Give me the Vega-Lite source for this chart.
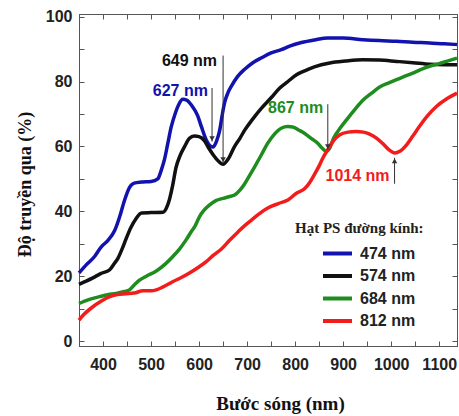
{
  "$schema": "https://vega.github.io/schema/vega-lite/v6.json",
  "width": 378,
  "height": 332,
  "autosize": "none",
  "padding": {"left": 79, "top": 14, "right": 2, "bottom": 70},
  "background": "white",
  "config": {
    "view": {"stroke": "#555", "strokeWidth": 1},
    "axis": {
      "domainColor": "#555",
      "tickColor": "#555",
      "labelFont": "Liberation Sans",
      "labelFontSize": 16,
      "labelFontWeight": "bold",
      "labelColor": "#222",
      "titleFont": "Liberation Serif",
      "titleFontSize": 19,
      "titleFontWeight": "bold",
      "titleColor": "#111",
      "grid": false
    }
  },
  "datasets": {
    "curves": [
      {"series":"474 nm","wl":350,"T":21},{"series":"474 nm","wl":365,"T":23.5},{"series":"474 nm","wl":382,"T":26},{"series":"474 nm","wl":396,"T":29},{"series":"474 nm","wl":410,"T":31},{"series":"474 nm","wl":424,"T":34},{"series":"474 nm","wl":435,"T":38.5},{"series":"474 nm","wl":445,"T":43.5},{"series":"474 nm","wl":455,"T":47.3},{"series":"474 nm","wl":465,"T":48.7},{"series":"474 nm","wl":480,"T":49},{"series":"474 nm","wl":500,"T":49.2},{"series":"474 nm","wl":514,"T":50},{"series":"474 nm","wl":522,"T":53},{"series":"474 nm","wl":528,"T":56},{"series":"474 nm","wl":535,"T":61},{"series":"474 nm","wl":542,"T":66},{"series":"474 nm","wl":550,"T":70},{"series":"474 nm","wl":558,"T":73},{"series":"474 nm","wl":566,"T":74.5},{"series":"474 nm","wl":575,"T":74.2},{"series":"474 nm","wl":585,"T":72.5},{"series":"474 nm","wl":597,"T":69.5},{"series":"474 nm","wl":605,"T":66},{"series":"474 nm","wl":615,"T":62},{"series":"474 nm","wl":622,"T":60.3},{"series":"474 nm","wl":629,"T":59.8},{"series":"474 nm","wl":636,"T":61.5},{"series":"474 nm","wl":643,"T":65},{"series":"474 nm","wl":648,"T":69.5},{"series":"474 nm","wl":653,"T":73.4},{"series":"474 nm","wl":660,"T":76.5},{"series":"474 nm","wl":667,"T":78.5},{"series":"474 nm","wl":680,"T":81.5},{"series":"474 nm","wl":695,"T":83.8},{"series":"474 nm","wl":712,"T":85.8},{"series":"474 nm","wl":730,"T":87.3},{"series":"474 nm","wl":750,"T":88.8},{"series":"474 nm","wl":771,"T":89.8},{"series":"474 nm","wl":790,"T":91},{"series":"474 nm","wl":813,"T":92},{"series":"474 nm","wl":840,"T":92.8},{"series":"474 nm","wl":868,"T":93.4},{"series":"474 nm","wl":900,"T":93.4},{"series":"474 nm","wl":941,"T":92.9},{"series":"474 nm","wl":975,"T":92.6},{"series":"474 nm","wl":1011,"T":92.4},{"series":"474 nm","wl":1045,"T":92.1},{"series":"474 nm","wl":1080,"T":91.9},{"series":"474 nm","wl":1110,"T":91.6},{"series":"474 nm","wl":1137,"T":91.4},
      {"series":"574 nm","wl":350,"T":17.5},{"series":"574 nm","wl":365,"T":18.5},{"series":"574 nm","wl":379,"T":19.5},{"series":"574 nm","wl":395,"T":20.8},{"series":"574 nm","wl":414,"T":22},{"series":"574 nm","wl":424,"T":24},{"series":"574 nm","wl":431,"T":25.5},{"series":"574 nm","wl":440,"T":28.5},{"series":"574 nm","wl":448,"T":31.5},{"series":"574 nm","wl":458,"T":35},{"series":"574 nm","wl":469,"T":37.8},{"series":"574 nm","wl":480,"T":39.5},{"series":"574 nm","wl":500,"T":39.6},{"series":"574 nm","wl":525,"T":39.7},{"series":"574 nm","wl":532,"T":41},{"series":"574 nm","wl":538,"T":43.5},{"series":"574 nm","wl":545,"T":48},{"series":"574 nm","wl":552,"T":53.5},{"series":"574 nm","wl":560,"T":57},{"series":"574 nm","wl":570,"T":60},{"series":"574 nm","wl":580,"T":62.5},{"series":"574 nm","wl":590,"T":63.2},{"series":"574 nm","wl":600,"T":63},{"series":"574 nm","wl":611,"T":61.8},{"series":"574 nm","wl":620,"T":59.5},{"series":"574 nm","wl":630,"T":57.3},{"series":"574 nm","wl":640,"T":55.5},{"series":"574 nm","wl":650,"T":54.5},{"series":"574 nm","wl":660,"T":56},{"series":"574 nm","wl":674,"T":60},{"series":"574 nm","wl":685,"T":62.5},{"series":"574 nm","wl":695,"T":65},{"series":"574 nm","wl":712,"T":68.5},{"series":"574 nm","wl":730,"T":71.8},{"series":"574 nm","wl":750,"T":75},{"series":"574 nm","wl":768,"T":78},{"series":"574 nm","wl":785,"T":80},{"series":"574 nm","wl":802,"T":82},{"series":"574 nm","wl":820,"T":83.3},{"series":"574 nm","wl":840,"T":84.5},{"series":"574 nm","wl":872,"T":85.7},{"series":"574 nm","wl":905,"T":86.3},{"series":"574 nm","wl":941,"T":86.7},{"series":"574 nm","wl":975,"T":86.6},{"series":"574 nm","wl":1011,"T":86.2},{"series":"574 nm","wl":1045,"T":85.8},{"series":"574 nm","wl":1080,"T":85.3},{"series":"574 nm","wl":1110,"T":85.2},{"series":"574 nm","wl":1137,"T":85.2},
      {"series":"684 nm","wl":350,"T":11.6},{"series":"684 nm","wl":370,"T":12.8},{"series":"684 nm","wl":393,"T":13.7},{"series":"684 nm","wl":410,"T":14.3},{"series":"684 nm","wl":427,"T":14.7},{"series":"684 nm","wl":445,"T":15.3},{"series":"684 nm","wl":455,"T":15.8},{"series":"684 nm","wl":465,"T":17.3},{"series":"684 nm","wl":476,"T":18.8},{"series":"684 nm","wl":490,"T":20},{"series":"684 nm","wl":511,"T":21.6},{"series":"684 nm","wl":530,"T":23.8},{"series":"684 nm","wl":545,"T":26},{"series":"684 nm","wl":560,"T":28.5},{"series":"684 nm","wl":573,"T":31.2},{"series":"684 nm","wl":585,"T":34},{"series":"684 nm","wl":591,"T":35.3},{"series":"684 nm","wl":601,"T":38.4},{"series":"684 nm","wl":610,"T":40.3},{"series":"684 nm","wl":622,"T":42},{"series":"684 nm","wl":635,"T":43.3},{"series":"684 nm","wl":650,"T":44},{"series":"684 nm","wl":662,"T":44.5},{"series":"684 nm","wl":674,"T":45},{"series":"684 nm","wl":685,"T":46.5},{"series":"684 nm","wl":695,"T":48.5},{"series":"684 nm","wl":705,"T":51},{"series":"684 nm","wl":716,"T":53.8},{"series":"684 nm","wl":730,"T":57.5},{"series":"684 nm","wl":743,"T":61},{"series":"684 nm","wl":757,"T":63.8},{"series":"684 nm","wl":771,"T":65.6},{"series":"684 nm","wl":785,"T":66.1},{"series":"684 nm","wl":795,"T":66},{"series":"684 nm","wl":808,"T":65},{"series":"684 nm","wl":820,"T":64},{"series":"684 nm","wl":835,"T":62.3},{"series":"684 nm","wl":847,"T":61},{"series":"684 nm","wl":856,"T":59.5},{"series":"684 nm","wl":865,"T":58.5},{"series":"684 nm","wl":872,"T":59.5},{"series":"684 nm","wl":880,"T":62.5},{"series":"684 nm","wl":893,"T":65.5},{"series":"684 nm","wl":907,"T":68.2},{"series":"684 nm","wl":925,"T":71.5},{"series":"684 nm","wl":941,"T":74.2},{"series":"684 nm","wl":960,"T":76.5},{"series":"684 nm","wl":976,"T":78.3},{"series":"684 nm","wl":995,"T":79.6},{"series":"684 nm","wl":1011,"T":80.6},{"series":"684 nm","wl":1030,"T":81.7},{"series":"684 nm","wl":1045,"T":82.6},{"series":"684 nm","wl":1060,"T":83.6},{"series":"684 nm","wl":1080,"T":84.7},{"series":"684 nm","wl":1100,"T":85.5},{"series":"684 nm","wl":1115,"T":86.2},{"series":"684 nm","wl":1137,"T":87.2},
      {"series":"812 nm","wl":350,"T":6.5},{"series":"812 nm","wl":360,"T":8.2},{"series":"812 nm","wl":379,"T":10.6},{"series":"812 nm","wl":395,"T":12.2},{"series":"812 nm","wl":414,"T":13.7},{"series":"812 nm","wl":430,"T":14.4},{"series":"812 nm","wl":448,"T":14.6},{"series":"812 nm","wl":465,"T":14.8},{"series":"812 nm","wl":483,"T":15.5},{"series":"812 nm","wl":500,"T":15.5},{"series":"812 nm","wl":511,"T":15.8},{"series":"812 nm","wl":525,"T":16.7},{"series":"812 nm","wl":545,"T":18.3},{"series":"812 nm","wl":563,"T":19.6},{"series":"812 nm","wl":580,"T":21},{"series":"812 nm","wl":598,"T":22.7},{"series":"812 nm","wl":615,"T":24.5},{"series":"812 nm","wl":630,"T":26.5},{"series":"812 nm","wl":646,"T":28.3},{"series":"812 nm","wl":663,"T":31},{"series":"812 nm","wl":680,"T":33.5},{"series":"812 nm","wl":695,"T":35.6},{"series":"812 nm","wl":709,"T":37.3},{"series":"812 nm","wl":725,"T":39.2},{"series":"812 nm","wl":743,"T":41},{"series":"812 nm","wl":765,"T":42.4},{"series":"812 nm","wl":785,"T":43.5},{"series":"812 nm","wl":802,"T":45.5},{"series":"812 nm","wl":820,"T":47},{"series":"812 nm","wl":830,"T":48.8},{"series":"812 nm","wl":840,"T":51.3},{"series":"812 nm","wl":850,"T":54},{"series":"812 nm","wl":858,"T":56.5},{"series":"812 nm","wl":868,"T":59},{"series":"812 nm","wl":880,"T":61.8},{"series":"812 nm","wl":893,"T":63.6},{"series":"812 nm","wl":910,"T":64.4},{"series":"812 nm","wl":927,"T":64.6},{"series":"812 nm","wl":942,"T":64.4},{"series":"812 nm","wl":955,"T":63.8},{"series":"812 nm","wl":970,"T":62.5},{"series":"812 nm","wl":983,"T":60.8},{"series":"812 nm","wl":995,"T":59},{"series":"812 nm","wl":1007,"T":58},{"series":"812 nm","wl":1018,"T":58.5},{"series":"812 nm","wl":1032,"T":60.5},{"series":"812 nm","wl":1045,"T":63.2},{"series":"812 nm","wl":1059,"T":66.2},{"series":"812 nm","wl":1075,"T":69.3},{"series":"812 nm","wl":1094,"T":72.3},{"series":"812 nm","wl":1115,"T":74.6},{"series":"812 nm","wl":1137,"T":76.4}
    ],
    "notes": [
      {"label":"627 nm","series":"474 nm","tx":561,"ty":77,"x":627,"y1":78,"y2":61.5},
      {"label":"649 nm","series":"574 nm","tx":580,"ty":86.3,"x":650,"y1":88,"y2":55},
      {"label":"867 nm","series":"684 nm","tx":801,"ty":71.8,"x":868,"y1":73,"y2":59},
      {"label":"1014 nm","series":"812 nm","tx":930,"ty":51,"x":1007,"y1":48.5,"y2":56.5}
    ]
  },
  "layer": [
    {
      "data": {"name": "curves"},
      "mark": {"type": "line", "strokeWidth": 3.5, "interpolate": "monotone"},
      "encoding": {
        "x": {"field": "wl", "type": "quantitative",
          "scale": {"domain": [350, 1137], "nice": false, "zero": false},
          "axis": {"orient": "bottom", "title": "Bước sóng (nm)", "format": "d", "values": [350,400,450,500,550,600,650,700,750,800,850,900,950,1000,1050,1100],
            "labelExpr": "datum.value % 100 == 0 ? datum.label : ''", "tickSize": -5, "labelPadding": 15, "labelFlush": false,
            "titleX": 201, "titleY": 57, "titleBaseline": "middle", "titleAnchor": null}},
        "y": {"field": "T", "type": "quantitative",
          "scale": {"domain": [-1.5, 100.8], "nice": false, "zero": false},
          "axis": {"orient": "left", "title": "Độ truyền qua (%)", "format": "d", "values": [0,10,20,30,40,50,60,70,80,90,100],
            "labelExpr": "datum.value % 20 == 0 ? datum.label : ''", "tickSize": -5, "labelPadding": 12, "labelFlush": false,
            "titleFontSize": 18, "titleAngle": -90, "titleX": -54, "titleY": 170, "titleAlign": "center", "titleBaseline": "middle", "titleAnchor": null}},
        "color": {"field": "series", "type": "nominal",
          "scale": {"domain": ["474 nm","574 nm","684 nm","812 nm"], "range": ["#1212ae","#111111","#1e8c1e","#f21c1c"]},
          "legend": {"orient": "none", "legendX": 216, "legendY": 207, "title": "Hạt PS đường kính:",
            "titleFont": "Liberation Serif", "titleFontSize": 15, "titleFontWeight": "bold", "titleColor": "#222", "titleAnchor": "start", "titlePadding": 5.5, "titleLimit": 300,
            "symbolType": "M-1.45,0H1.45", "symbolStrokeWidth": 4, "symbolSize": 400, "symbolOffset": 30.5,
            "labelFont": "Liberation Sans", "labelFontSize": 16, "labelFontWeight": "bold", "labelColor": "#222", "labelOffset": 10.5,
            "rowPadding": 2.5, "padding": 0}}
      }
    },
    {
      "data": {"name": "notes"},
      "mark": {"type": "rule", "color": "#333", "strokeWidth": 1},
      "encoding": {
        "x": {"field": "x", "type": "quantitative", "axis": {"orient": "top", "labels": false, "title": null, "tickSize": -5, "values": [350,400,450,500,550,600,650,700,750,800,850,900,950,1000,1050,1100]}},
        "y": {"field": "y1", "type": "quantitative", "axis": {"orient": "right", "labels": false, "title": null, "tickSize": -5, "values": [0,10,20,30,40,50,60,70,80,90,100]}},
        "y2": {"field": "y2"}
      }
    },
    {
      "data": {"name": "notes"},
      "transform": [{"filter": "datum.y2 < datum.y1"}],
      "mark": {"type": "point", "shape": "triangle-down", "filled": true, "color": "#333", "size": 30, "yOffset": -3, "opacity": 1},
      "encoding": {
        "x": {"field": "x", "type": "quantitative", "axis": null},
        "y": {"field": "y2", "type": "quantitative", "axis": null}
      }
    },
    {
      "data": {"name": "notes"},
      "transform": [{"filter": "datum.y2 > datum.y1"}],
      "mark": {"type": "point", "shape": "triangle-up", "filled": true, "color": "#333", "size": 30, "yOffset": 3, "opacity": 1},
      "encoding": {
        "x": {"field": "x", "type": "quantitative", "axis": null},
        "y": {"field": "y2", "type": "quantitative", "axis": null}
      }
    },
    {
      "data": {"name": "notes"},
      "mark": {"type": "text", "font": "Liberation Sans", "fontSize": 16, "fontWeight": "bold", "align": "center", "baseline": "middle"},
      "encoding": {
        "x": {"field": "tx", "type": "quantitative", "axis": null},
        "y": {"field": "ty", "type": "quantitative", "axis": null},
        "text": {"field": "label"},
        "color": {"field": "series", "type": "nominal", "legend": null}
      }
    }
  ],
  "resolve": {"axis": {"x": "independent", "y": "independent"}}
}
